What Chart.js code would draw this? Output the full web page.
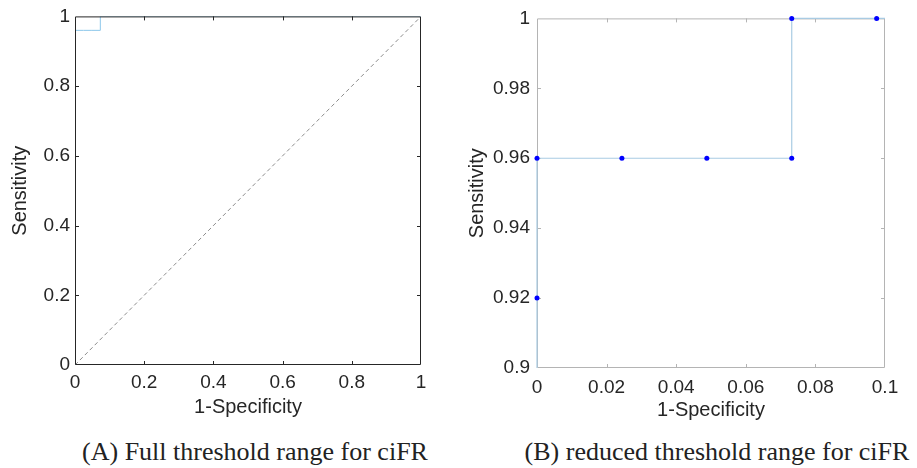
<!DOCTYPE html>
<html>
<head>
<meta charset="utf-8">
<script src="https://cdn.jsdelivr.net/npm/chart.js@4/dist/chart.umd.min.js"></script>
<style>
  body { margin: 0; background: #fff; }
  #wrap { position: relative; width: 917px; height: 468px; background: #fff; overflow: hidden; }
  .box { position: absolute; top: 0; height: 430px; }
  .cap { position: absolute; top: 437px; height: 30px; line-height: 30px; text-align: center;
         font-family: "Liberation Serif", "DejaVu Serif", serif; font-size: 26px; color: #222; }
</style>
</head>
<body>
<div id="wrap">
  <div class="box" style="left:0;width:458px"><canvas id="rocFull"></canvas></div>
  <div class="box" style="left:458px;width:459px"><canvas id="rocZoom"></canvas></div>
  <div class="cap" style="left:30px;width:450px">(A) Full threshold range for ciFR</div>
  <div class="cap" style="left:492px;width:450px">(B) reduced threshold range for ciFR</div>
</div>
<script>
// ROC points (1-specificity, sensitivity)
const fpr = [0, 0, 0, 0.0244, 0.0488, 0.0732, 0.0732, 0.0976, 1];
const tpr = [0, 0.92, 0.96, 0.96, 0.96, 0.96, 1, 1, 1];
const chanceX = [0, 1];
const chanceY = [0, 1];

const fullTicks = [0, 0.2, 0.4, 0.6, 0.8, 1];
const zoomXTicks = [0, 0.02, 0.04, 0.06, 0.08, 0.1];
const zoomYTicks = [0.9, 0.92, 0.94, 0.96, 0.98, 1];

const toPts = (xs, ys) => xs.map((x, i) => ({ x: x, y: ys[i] }));

// matlab style box with inward ticks
function drawBox(chart, opts) {
  const { ctx, chartArea: a, scales } = chart;
  ctx.save();
  ctx.strokeStyle = opts.color;
  ctx.lineWidth = 1;
  ctx.beginPath();
  ctx.rect(a.left + 0.5, a.top + 0.5, a.right - a.left - 1, a.bottom - a.top - 1);
  scales.x.ticks.slice(1, -1).forEach(t => {
    const px = Math.round(scales.x.getPixelForValue(t.value)) + 0.5;
    ctx.moveTo(px, a.bottom); ctx.lineTo(px, a.bottom - 4);
    ctx.moveTo(px, a.top); ctx.lineTo(px, a.top + 4);
  });
  scales.y.ticks.slice(1, -1).forEach(t => {
    const py = Math.round(scales.y.getPixelForValue(t.value)) + 0.5;
    ctx.moveTo(a.left, py); ctx.lineTo(a.left + 4, py);
    ctx.moveTo(a.right, py); ctx.lineTo(a.right - 4, py);
  });
  ctx.stroke();
  ctx.restore();
}

const boxPlugin = {
  id: 'box',
  beforeDatasetsDraw(chart, args, opts) { if (!opts.onTop) drawBox(chart, opts); },
  afterDatasetsDraw(chart, args, opts) { if (opts.onTop) drawBox(chart, opts); }
};

function makeAxis(tickVals, min, max, title, size, pad, titlePad, horiz) {
  return {
    type: 'linear', min: min, max: max,
    grid: { display: false, drawTicks: false },
    border: { display: false },
    afterBuildTicks: s => { s.ticks = tickVals.map(v => ({ value: v })); },
    afterFit: s => { if (horiz) s.height = size; else s.width = size; },
    ticks: {
      autoSkip: false, maxRotation: 0, padding: pad, color: '#262626',
      font: { family: 'Liberation Sans, Arial', size: 19 },
      callback: v => String(v)
    },
    title: {
      display: true, text: title, color: '#262626', padding: titlePad,
      font: { family: 'Liberation Sans, Arial', size: 20 }
    }
  };
}

new Chart(document.getElementById('rocFull'), {
  type: 'line',
  data: {
    datasets: [
      { data: toPts(fpr, tpr), borderColor: '#8cc7ea', borderWidth: 1, pointRadius: 0, tension: 0 },
      { data: toPts(chanceX, chanceY), borderColor: '#6e6e6e', borderWidth: 0.8, borderDash: [4, 3], pointRadius: 0 }
    ]
  },
  options: {
    responsive: true, maintainAspectRatio: false, animation: false,
    layout: { padding: { top: 16, right: 37, left: 0, bottom: 0 } },
    plugins: { legend: { display: false }, tooltip: { enabled: false }, box: { color: '#262626', onTop: true } },
    scales: {
      x: makeAxis(fullTicks, 0, 1, '1-Specificity', 65, 6, { top: 0, bottom: 11 }, true),
      y: makeAxis(fullTicks, 0, 1, 'Sensitivity', 75, 5, { top: 8, bottom: 0 }, false)
    }
  },
  plugins: [boxPlugin]
});

new Chart(document.getElementById('rocZoom'), {
  type: 'line',
  data: {
    datasets: [
      { data: toPts(fpr, tpr), borderColor: '#a9cbe3', borderWidth: 1.2, tension: 0,
        pointRadius: 2.5, pointBackgroundColor: '#0000ff', pointBorderWidth: 0,
        clip: { left: 5, top: 5, right: 0, bottom: 0 } }
    ]
  },
  options: {
    responsive: true, maintainAspectRatio: false, animation: false,
    layout: { padding: { top: 18, right: 32, left: 0, bottom: 0 } },
    plugins: { legend: { display: false }, tooltip: { enabled: false }, box: { color: '#b4b4b4', onTop: false } },
    scales: {
      x: makeAxis(zoomXTicks, 0, 0.1, '1-Specificity', 62, 8, { top: 0, bottom: 8 }, true),
      y: makeAxis(zoomYTicks, 0.9, 1, 'Sensitivity', 79, 7, { top: 7, bottom: 0 }, false)
    }
  },
  plugins: [boxPlugin]
});
</script>
</body>
</html>
